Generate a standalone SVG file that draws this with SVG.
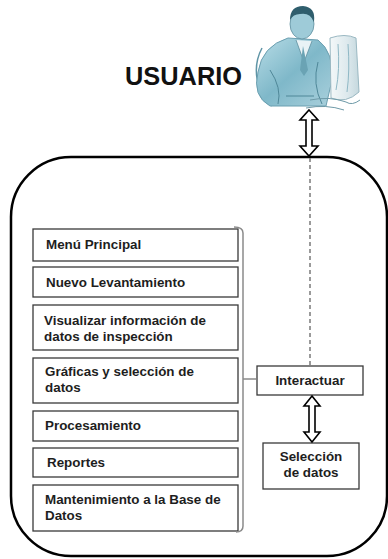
<svg xmlns="http://www.w3.org/2000/svg" width="388" height="559" viewBox="0 0 388 559">
  <style>
    .item { fill: #ffffff; stroke: #3a3a3a; stroke-width: 1.3; }
    .lbl { font-family: "Liberation Sans", Arial, sans-serif; font-weight: bold; font-size: 13.4px; fill: #1e1e1e; }
    .dbl { fill: #ffffff; stroke: #000000; stroke-width: 1.6; stroke-linejoin: miter; }
  </style>
  <defs>
    <linearGradient id="suit" x1="0" y1="0" x2="1" y2="1">
      <stop offset="0" stop-color="#b9dde7"/>
      <stop offset="0.5" stop-color="#7fb8c9"/>
      <stop offset="1" stop-color="#a9d0dc"/>
    </linearGradient>
    <linearGradient id="screen" x1="0" y1="0" x2="1" y2="0">
      <stop offset="0" stop-color="#f4f8f9"/>
      <stop offset="0.6" stop-color="#dde9ed"/>
      <stop offset="1" stop-color="#c5d8de"/>
    </linearGradient>
  </defs>

  <!-- user figure -->
  <g id="usuario">
    <text x="125" y="85" class="lbl" style="font-size:26px;fill:#111" textLength="117" lengthAdjust="spacingAndGlyphs">USUARIO</text>
    <g id="user-icon">
      <path d="M262 48 A48 48 0 0 0 272 106" fill="none" stroke="#5f95a6" stroke-width="1.5"/>
      <path d="M258 72 Q262 46 288 38 L318 40 Q334 52 332 80 L326 106 L270 106 Q252 96 258 72 Z" fill="url(#suit)" stroke="#6b9fb0" stroke-width="1"/>
      <path d="M296 40 L304 62 L312 41" fill="#e9f3f6" stroke="#5d8e9e" stroke-width="0.8"/>
      <path d="M303 46 L300 70 L304 76 L308 70 Z" fill="#6aa3b4"/>
      <path d="M270 70 Q282 88 278 104 M318 62 Q312 84 322 104 M286 96 L314 96" fill="none" stroke="#4f8798" stroke-width="1"/>
      <ellipse cx="302" cy="24" rx="12" ry="15" fill="#9ecbd8" stroke="#5d8e9e" stroke-width="0.8"/>
      <path d="M290 20 Q290 6 303 6 Q316 7 314 22 Q310 12 300 14 Q293 14 290 20 Z" fill="#2f5e6d"/>
      <path d="M330 38 Q345 33 356 38 L359 92 Q346 104 331 98 Z" fill="url(#screen)" stroke="#9ab8c2" stroke-width="1"/>
      <path d="M338 44 Q340 70 336 90 M348 44 Q350 70 347 92" fill="none" stroke="#8fb8c5" stroke-width="1"/>
      <path d="M310 100 Q330 96 346 102 Q352 106 360 100 M306 108 Q326 104 344 110" fill="none" stroke="#6e9aa8" stroke-width="1"/>
    </g>
  </g>

  <!-- system frame -->
  <g id="sistema">
    <rect x="11" y="157" width="376" height="399" rx="60" ry="60" fill="#ffffff" stroke="#000000" stroke-width="2.5"/>
  </g>

  <!-- menu items -->
  <g id="menu-principal">
    <rect class="item" x="33" y="229" width="205" height="32"/>
    <text class="lbl" x="46" y="249">Menú Principal</text>
  </g>
  <g id="nuevo-levantamiento">
    <rect class="item" x="33" y="267" width="205" height="30"/>
    <text class="lbl" x="46" y="287">Nuevo Levantamiento</text>
  </g>
  <g id="visualizar">
    <rect class="item" x="33" y="305" width="205" height="45"/>
    <text class="lbl" x="44" y="325">Visualizar información de</text>
    <text class="lbl" x="44" y="341">datos de inspección</text>
  </g>
  <g id="graficas">
    <rect class="item" x="33" y="358" width="205" height="45"/>
    <text class="lbl" x="45" y="376">Gráficas y  selección de</text>
    <text class="lbl" x="45" y="392">datos</text>
  </g>
  <g id="procesamiento">
    <rect class="item" x="33" y="411" width="205" height="30"/>
    <text class="lbl" x="45" y="430">Procesamiento</text>
  </g>
  <g id="reportes">
    <rect class="item" x="33" y="448" width="205" height="29"/>
    <text class="lbl" x="47" y="467">Reportes</text>
  </g>
  <g id="mantenimiento">
    <rect class="item" x="33" y="485" width="205" height="46"/>
    <text class="lbl" x="45" y="504">Mantenimiento a la Base de</text>
    <text class="lbl" x="45" y="520">Datos</text>
  </g>

  <g id="interactuar">
    <rect class="item" x="257" y="366" width="106" height="29"/>
    <text class="lbl" x="310" y="385" text-anchor="middle">Interactuar</text>
  </g>
  <g id="seleccion">
    <rect class="item" x="263" y="443" width="96" height="46"/>
    <text class="lbl" x="311" y="461" text-anchor="middle">Selección</text>
    <text class="lbl" x="311" y="477" text-anchor="middle">de datos</text>
  </g>

  <!-- connectors -->
  <g id="conectores">
    <path d="M310 158 L310 366" fill="none" stroke="#7a7a7a" stroke-width="1.5" stroke-dasharray="4 3"/>
    <path d="M234 227 Q243 227 243 233 L243 526 Q243 532 236 532 M243 379 L256 379" fill="none" stroke="#8a8a8a" stroke-width="1.5"/>
    <path class="dbl" d="M309 110 L318 120 L312 120 L312 146 L318 146 L309 156 L300 146 L306 146 L306 120 L300 120 Z"/>
    <path class="dbl" d="M312 396 L320 406 L315 406 L315 432 L320 432 L312 442 L304 432 L309 432 L309 406 L304 406 Z"/>
  </g>
</svg>
